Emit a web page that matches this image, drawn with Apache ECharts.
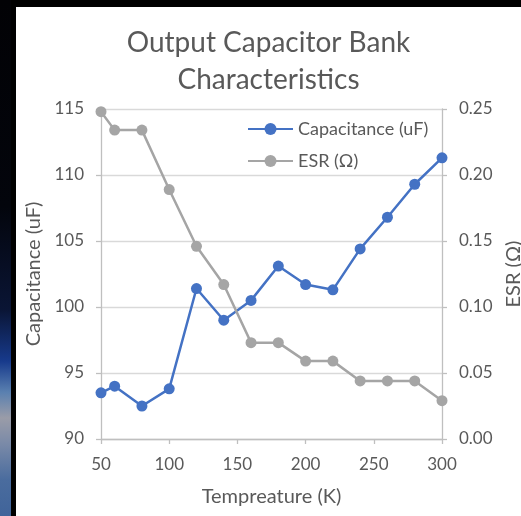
<!DOCTYPE html>
<html>
<head>
<meta charset="utf-8">
<script src="https://cdn.jsdelivr.net/npm/echarts@6/dist/echarts.min.js"></script>
<style>
  html, body { margin: 0; padding: 0; width: 521px; height: 516px; overflow: hidden; background: #000; }
  #strip { position: absolute; left: 0; top: 0; width: 11px; height: 516px;
    background: linear-gradient(to bottom, #020205 0%, #03050c 40%, #0a1535 60%, #173a8c 70%, #5a80b0 76%, #9a9ca8 81%, #7a8aa8 86%, #4a6c9e 93%, #40649a 100%); }
  #chart { position: absolute; left: 16px; top: 7px; width: 505px; height: 509px; background: #fff; }
</style>
</head>
<body>
<div id="strip"></div>
<div id="chart"></div>
<script>
const titleText = 'Output Capacitor Bank\nCharacteristics';
const xName = 'Tempreature (K)';
const yLeftName = 'Capacitance (uF)';
const yRightName = 'ESR (Ω)';
const seriesNames = ['Capacitance (uF)', 'ESR (Ω)'];
const temperatures = [50, 60, 80, 100, 120, 140, 160, 180, 200, 220, 240, 260, 280, 300];
const capacitance = [93.5, 94.0, 92.5, 93.8, 101.4, 99.0, 100.5, 103.1, 101.7, 101.3, 104.4, 106.8, 109.3, 111.3];
const esr = [0.248, 0.234, 0.234, 0.189, 0.146, 0.117, 0.073, 0.073, 0.059, 0.059, 0.044, 0.044, 0.044, 0.029];

const FONT = 'Lato';
const TXT = '#595959';
const AXIS = '#bfbfbf';
const GRID = '#d9d9d9';

const chart = echarts.init(document.getElementById('chart'), null, { renderer: 'canvas' });
chart.setOption({
  animation: false,
  textStyle: { fontFamily: FONT },
  title: {
    text: titleText,
    left: 'center',
    top: 12,
    padding: [5, 0, 5, 22],
    textStyle: { fontFamily: FONT, fontSize: 28, fontWeight: 'normal', color: TXT, lineHeight: 37 }
  },
  legend: {
    orient: 'vertical',
    left: 231,
    top: 113,
    padding: 0,
    itemWidth: 45,
    itemHeight: 15,
    itemGap: 14,
    textStyle: { fontFamily: FONT, fontSize: 18, color: TXT },
    data: seriesNames
  },
  grid: { left: 85, top: 102, right: 79, bottom: 77, containLabel: false, outerBoundsMode: 'none' },
  xAxis: {
    type: 'value',
    min: 50, max: 300, interval: 50,
    name: xName,
    nameLocation: 'middle',
    nameGap: 48,
    nameTextStyle: { fontFamily: FONT, fontSize: 20, color: TXT },
    axisLine: { show: true, lineStyle: { color: AXIS, width: 1.3 } },
    axisTick: { show: true, length: 5, lineStyle: { color: AXIS, width: 1.3 } },
    axisLabel: { fontFamily: FONT, fontSize: 17, color: TXT, margin: 17 },
    splitLine: { show: false }
  },
  yAxis: [
    {
      type: 'value',
      min: 90, max: 115, interval: 5,
      position: 'left',
      name: yLeftName,
      nameLocation: 'middle',
      nameRotate: 90,
      nameGap: 53,
      nameTextStyle: { fontFamily: FONT, fontSize: 20, color: TXT },
      axisLine: { show: true, lineStyle: { color: AXIS, width: 1.3 } },
      axisTick: { show: true, length: 5, lineStyle: { color: AXIS, width: 1.3 } },
      axisLabel: { fontFamily: FONT, fontSize: 17, color: TXT, margin: 17 },
      splitLine: { show: true, lineStyle: { color: GRID, width: 1.3 } }
    },
    {
      type: 'value',
      min: 0, max: 0.25, interval: 0.05,
      position: 'right',
      name: yRightName,
      nameLocation: 'middle',
      nameRotate: 90,
      nameGap: 57,
      nameTextStyle: { fontFamily: FONT, fontSize: 20, color: TXT },
      axisLine: { show: true, lineStyle: { color: AXIS, width: 1.3 } },
      axisTick: { show: true, length: 5, lineStyle: { color: AXIS, width: 1.3 } },
      axisLabel: { fontFamily: FONT, fontSize: 17, color: TXT, margin: 17, formatter: v => v.toFixed(2) },
      splitLine: { show: false }
    }
  ],
  series: [
    {
      name: seriesNames[0],
      type: 'line',
      yAxisIndex: 0,
      data: temperatures.map((t, i) => [t, capacitance[i]]),
      symbol: 'circle',
      symbolSize: 11,
      lineStyle: { color: '#4472C4', width: 2.5 },
      itemStyle: { color: '#4472C4' }
    },
    {
      name: seriesNames[1],
      type: 'line',
      yAxisIndex: 1,
      data: temperatures.map((t, i) => [t, esr[i]]),
      symbol: 'circle',
      symbolSize: 11,
      lineStyle: { color: '#A5A5A5', width: 2.5 },
      itemStyle: { color: '#A5A5A5' }
    }
  ]
});
</script>
</body>
</html>
